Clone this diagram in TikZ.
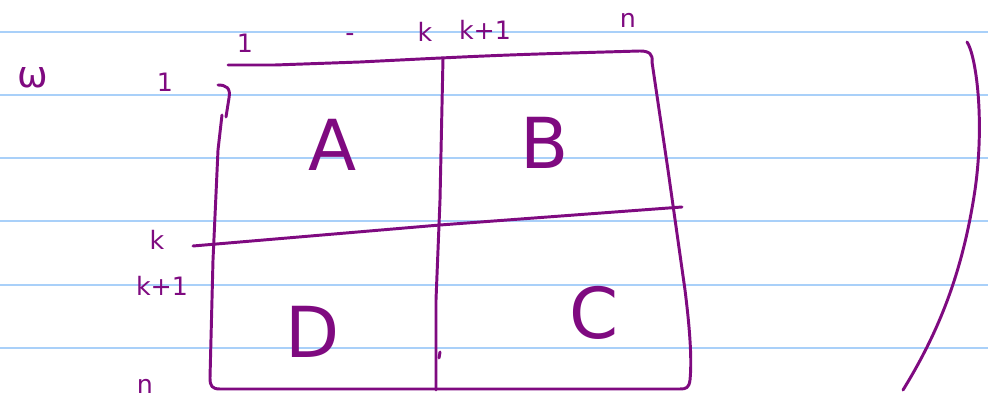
\documentclass[tikz,border=0pt]{standalone}
\usepackage{fontspec}
\setmainfont{DejaVu Sans}
\begin{document}
\begin{tikzpicture}[x=0.025cm,y=-0.025cm,
  ink/.style={draw=inkc,line width=2.1pt,line cap=round,line join=round},
  rule/.style={draw=rulec,line width=1.2pt},
  lab/.style={text=inkc,font=\fontsize{18}{18}\selectfont,inner sep=0pt},
  big/.style={text=inkc,font=\fontsize{50}{50}\selectfont,inner sep=0pt}]
\definecolor{inkc}{HTML}{7F0A80}
\definecolor{rulec}{HTML}{A9D0F9}
\fill[white] (0,0) rectangle (988,398);
\useasboundingbox (0,0) rectangle (988,398);
% ruled lines
\foreach \yy in {32,95,158,221,285,348}
  \draw[rule] (0,\yy) -- (988,\yy);
% coordinates
\coordinate (tl) at (228,65);
\coordinate (tr) at (640,51);
\coordinate (br) at (690,380);
\coordinate (bl) at (210,378);
\coordinate (mt) at (443,58);
\coordinate (mb) at (436,390);
\coordinate (ml) at (193,246);
\coordinate (mr) at (682,207);
% matrix outline
\draw[ink] (tl) -- (275,65) -- (360,62) .. controls (500,55) .. (tr)
  .. controls (650,51) and (653,55) .. (652,62)
  -- (668,170) -- (685,290) .. controls (690,330) and (692,360) .. (br)
  .. controls (689,388) and (686,389) .. (680,389) -- (220,389)
  .. controls (212,389) and (210,386) .. (bl) -- (213,260) -- (218,150) -- (222,115);
\draw[ink] (218,85) .. controls (226,85) and (231,88) .. (229,98) -- (226,117);
\draw[ink] (mt) -- (440,200) -- (436,300) -- (mb);
\draw[ink] (440,352) -- (439,358);
\draw[ink] (ml) -- (440,225) -- (mr);
% right bracket
\draw[ink] (967,42) .. controls (976,55) and (985,120) .. (975,190)
  .. controls (963,270) and (940,330) .. (903,390);
% labels
\node[lab] (c1) at (245,43) {1};
\node[lab] (cd) at (350,38) {-};
\node[lab] (ck) at (425,32) {k};
\node[lab] (ck1) at (485,30) {k+1};
\node[lab] (cn) at (628,20) {n};
\node[lab,font=\fontsize{26}{26}\selectfont] (om) at (33,78) {ω};
\node[lab] (r1) at (165,82) {1};
\node[lab] (rk) at (157,240) {k};
\node[lab] (rk1) at (162,286) {k+1};
\node[lab] (rn) at (145,386) {n};
\node[big] (A) at (333,145) {A};
\node[big] (B) at (545,143) {B};
\node[big] (D) at (313,332) {D};
\node[big] (C) at (594,313) {C};
\end{tikzpicture}
\end{document}
